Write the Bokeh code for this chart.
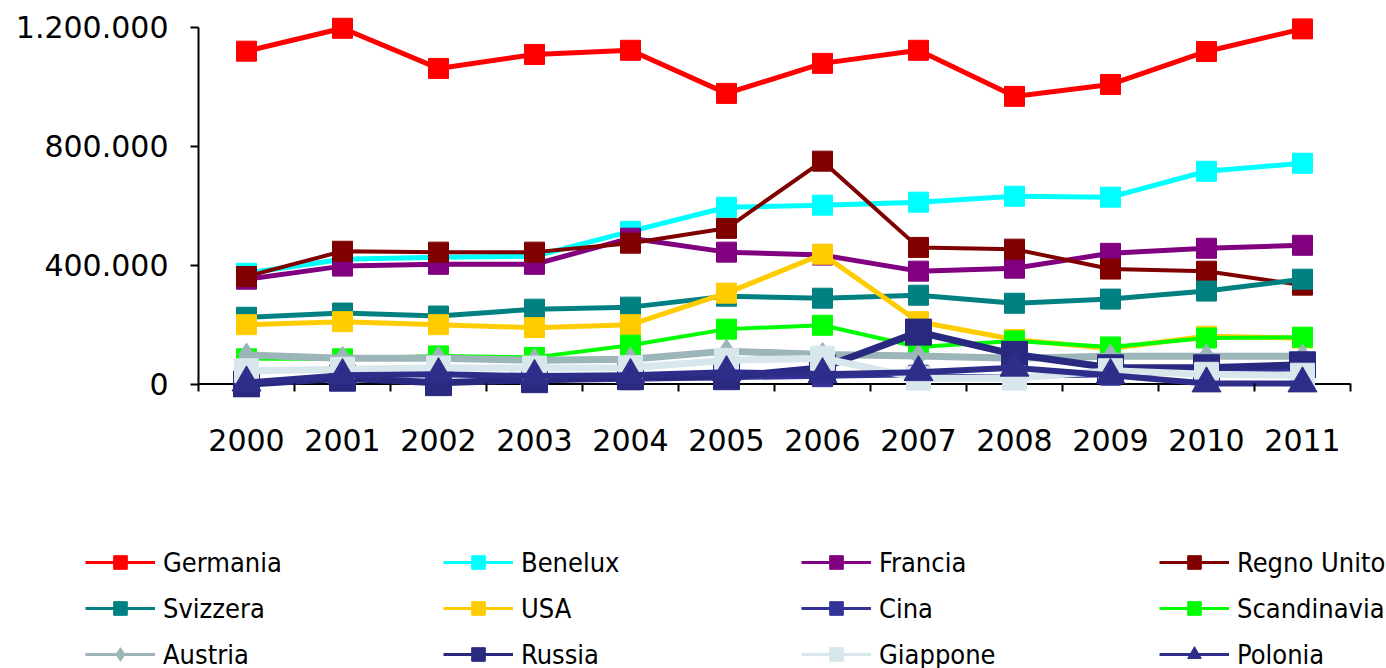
from bokeh.plotting import figure
from bokeh.models import Range1d, FixedTicker, Legend, LegendItem, Span
from bokeh.embed import file_html
from bokeh.resources import INLINE

years = ["2000", "2001", "2002", "2003", "2004", "2005", "2006", "2007", "2008", "2009", "2010", "2011"]

germania    = [1120000, 1197000, 1062000, 1109000, 1123000, 978000, 1079000, 1123000, 968000, 1008000, 1119000, 1195000]
benelux     = [373000, 420000, 427000, 430000, 514000, 595000, 602000, 612000, 632000, 629000, 716000, 743000]
francia     = [353000, 397000, 403000, 403000, 491000, 444000, 434000, 380000, 390000, 440000, 457000, 467000]
regno_unito = [362000, 447000, 444000, 444000, 474000, 524000, 750000, 460000, 454000, 387000, 380000, 333000]
svizzera    = [225000, 239000, 229000, 252000, 259000, 296000, 289000, 299000, 272000, 286000, 313000, 353000]
usa         = [200000, 210000, 200000, 190000, 200000, 306000, 437000, 210000, 150000, 120000, 161000, 155000]
cina        = [5000, 15000, 5000, 10000, 15000, 20000, 25000, 30000, 25000, 30000, 40000, 50000]
scandinavia = [85000, 85000, 95000, 90000, 131000, 185000, 198000, 125000, 145000, 125000, 155000, 158000]
austria     = [98000, 87000, 87000, 80000, 84000, 111000, 100000, 95000, 87000, 94000, 94000, 94000]
russia      = [0, 20000, 5000, 15000, 25000, 25000, 55000, 175000, 100000, 55000, 55000, 65000]
giappone    = [45000, 50000, 54000, 54000, 55000, 80000, 87000, 20000, 20000, 45000, 33000, 30000]
polonia     = [5000, 30000, 33000, 27000, 30000, 40000, 33000, 40000, 55000, 30000, 2000, 2000]

y_ticks = [0, 400000, 800000, 1200000]

# name, values, color, marker, marker size, line width
series = [
    ("Germania", germania, "#FF0000", "square", 20, 5),
    ("Benelux", benelux, "#00FFFF", "square", 20, 5),
    ("Francia", francia, "#800080", "square", 20, 5),
    ("Regno Unito", regno_unito, "#800000", "square", 20, 4),
    ("Svizzera", svizzera, "#008080", "square", 20, 5),
    ("USA", usa, "#FFCC00", "square", 20, 5),
    ("Cina", cina, "#333399", "square", 20, 4),
    ("Scandinavia", scandinavia, "#00FF00", "square", 20, 4),
    ("Austria", austria, "#9BB5B8", "diamond", 24, 7),
    ("Russia", russia, "#29297F", "square", 26, 7),
    ("Giappone", giappone, "#D8E7EB", "square", 24, 7),
    ("Polonia", polonia, "#2E2E8A", "triangle", 29, 6),
]

xs = list(range(len(years)))

p = figure(frame_width=1152, frame_height=382,
           x_range=Range1d(-0.5, len(years) - 0.5),
           y_range=Range1d(-45000, 1240000),
           output_backend="svg", toolbar_location=None,
           min_border_left=198, min_border_right=36, min_border_top=15, min_border_bottom=73)
p.grid.visible = False
p.outline_line_color = None
p.background_fill_color = "white"
p.border_fill_color = "white"

for name, vals, color, marker, msize, lw in series:
    p.line(xs, vals, line_color=color, line_width=lw, line_join="round")
    p.scatter(xs, vals, marker=marker, size=msize, fill_color=color, line_color=color, line_width=1)

# horizontal axis line at zero
p.add_layout(Span(location=0, dimension="width", line_color="black", line_width=2, level="underlay"))

# y axis
yax = p.yaxis[0]
yax.ticker = FixedTicker(ticks=y_ticks)
yax.major_label_overrides = {t: f"{t:,}".replace(",", ".") for t in y_ticks}
yax.bounds = (y_ticks[0], y_ticks[-1])
yax.minor_tick_line_color = None
yax.major_tick_in = 0
yax.major_tick_out = 8
yax.major_tick_line_width = 2
yax.axis_line_width = 2
yax.axis_line_color = "black"
yax.major_tick_line_color = "black"
yax.major_label_standoff = 22
yax.major_label_text_font = "DejaVu Sans"
yax.major_label_text_font_size = "30px"
yax.major_label_text_color = "black"

# x axis (ticks drawn up to the zero line, between categories)
xax = p.xaxis[0]
xax.ticker = FixedTicker(ticks=xs, minor_ticks=[i - 0.5 for i in range(len(years) + 1)])
xax.major_label_overrides = {i: y for i, y in zip(xs, years)}
xax.axis_line_color = None
xax.major_tick_line_color = None
xax.major_tick_in = 0
xax.major_tick_out = 0
xax.minor_tick_in = 14
xax.minor_tick_out = -6
xax.minor_tick_line_width = 2
xax.minor_tick_line_color = "black"
xax.major_label_standoff = 31
xax.major_label_text_font = "DejaVu Sans"
xax.major_label_text_font_size = "30px"
xax.major_label_text_color = "black"

# legend strip: a separate figure whose style proxies lie outside its visible range
pl = figure(width=1386, height=198,
            x_range=Range1d(len(years), len(years) + 1), y_range=Range1d(0, 1),
            output_backend="svg", toolbar_location=None,
            x_axis_location=None, y_axis_location=None,
            min_border_left=0, min_border_right=0, min_border_top=0, min_border_bottom=0)
pl.grid.visible = False
pl.outline_line_color = None
pl.background_fill_color = "white"
pl.border_fill_color = "white"

items = []
for name, vals, color, marker, msize, lw in series:
    r1 = pl.line(xs, vals, line_color=color, line_width=3)
    r2 = pl.scatter(xs, vals, marker=marker, size=msize, fill_color=color, line_color=color, line_width=1)
    items.append(LegendItem(label=name, renderers=[r1, r2]))

legend = Legend(items=items, ncols=4, orientation="horizontal",
                location=(85, -3),
                glyph_width=70, glyph_height=34, label_height=34, label_width=268,
                label_standoff=8, spacing=12, padding=0, margin=0,
                border_line_color=None, background_fill_alpha=0,
                label_text_font="'DejaVu Sans Condensed', 'DejaVu Sans', sans-serif",
                label_text_font_size="27px", label_text_color="black")
pl.add_layout(legend, "center")

open("out.html", "w").write(file_html([p, pl], INLINE))
